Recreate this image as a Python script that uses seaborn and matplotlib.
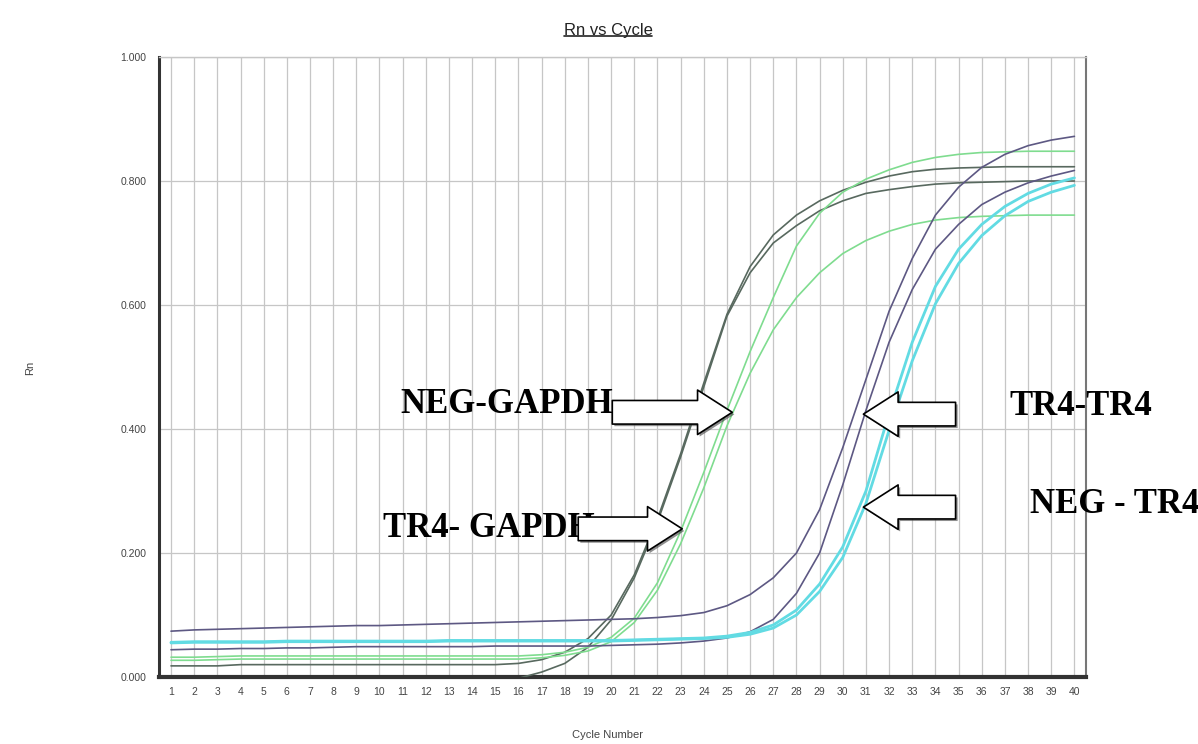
import matplotlib
matplotlib.use("Agg")
import matplotlib.pyplot as plt
import matplotlib.patheffects as pe
from matplotlib.lines import Line2D
import seaborn as sns
import pandas as pd

# Rn values, one list per well (cycles 1..40)
cycles = list(range(1, 41))

tr4_gapdh_a = [-0.012, -0.012, -0.012, -0.012, -0.012, -0.012, -0.012, -0.012, -0.012, -0.012,
               -0.012, -0.012, -0.012, -0.012, -0.008, -0.002, 0.008, 0.022, 0.048, 0.092,
               0.160, 0.250, 0.355, 0.468, 0.582, 0.652, 0.700, 0.728, 0.752, 0.768,
               0.780, 0.786, 0.791, 0.795, 0.797, 0.798, 0.799, 0.800, 0.800, 0.800]
tr4_gapdh_b = [0.018, 0.018, 0.018, 0.020, 0.020, 0.020, 0.020, 0.020, 0.020, 0.020,
               0.020, 0.020, 0.020, 0.020, 0.020, 0.022, 0.028, 0.040, 0.062, 0.100,
               0.165, 0.255, 0.360, 0.474, 0.585, 0.662, 0.713, 0.745, 0.768, 0.785,
               0.798, 0.808, 0.815, 0.819, 0.821, 0.822, 0.823, 0.823, 0.823, 0.823]
neg_gapdh_a = [0.032, 0.032, 0.033, 0.034, 0.034, 0.034, 0.034, 0.034, 0.034, 0.034,
               0.034, 0.034, 0.034, 0.034, 0.034, 0.034, 0.036, 0.040, 0.048, 0.064,
               0.095, 0.152, 0.235, 0.330, 0.430, 0.525, 0.612, 0.695, 0.748, 0.782,
               0.803, 0.818, 0.830, 0.838, 0.843, 0.846, 0.847, 0.848, 0.848, 0.848]
neg_gapdh_b = [0.027, 0.027, 0.028, 0.029, 0.029, 0.029, 0.029, 0.029, 0.029, 0.029,
               0.029, 0.029, 0.029, 0.029, 0.029, 0.029, 0.031, 0.035, 0.042, 0.057,
               0.088, 0.140, 0.215, 0.305, 0.405, 0.490, 0.560, 0.612, 0.652, 0.683,
               0.704, 0.719, 0.730, 0.737, 0.741, 0.743, 0.744, 0.745, 0.745, 0.745]
tr4_tr4_a = [0.074, 0.076, 0.077, 0.078, 0.079, 0.080, 0.081, 0.082, 0.083, 0.083,
             0.084, 0.085, 0.086, 0.087, 0.088, 0.089, 0.090, 0.091, 0.092, 0.093,
             0.094, 0.096, 0.099, 0.104, 0.115, 0.133, 0.160, 0.200, 0.270, 0.370,
             0.480, 0.590, 0.675, 0.745, 0.790, 0.822, 0.843, 0.857, 0.866, 0.872]
tr4_tr4_b = [0.044, 0.045, 0.045, 0.046, 0.046, 0.047, 0.047, 0.048, 0.049, 0.049,
             0.049, 0.049, 0.049, 0.049, 0.050, 0.050, 0.050, 0.050, 0.050, 0.051,
             0.052, 0.053, 0.055, 0.058, 0.063, 0.073, 0.093, 0.135, 0.200, 0.310,
             0.430, 0.540, 0.625, 0.690, 0.730, 0.762, 0.782, 0.797, 0.808, 0.817]
neg_tr4_a = [0.056, 0.057, 0.057, 0.057, 0.057, 0.058, 0.058, 0.058, 0.058, 0.058,
             0.058, 0.058, 0.059, 0.059, 0.059, 0.059, 0.059, 0.059, 0.059, 0.059,
             0.060, 0.061, 0.062, 0.063, 0.066, 0.072, 0.084, 0.108, 0.150, 0.210,
             0.300, 0.425, 0.540, 0.630, 0.690, 0.730, 0.759, 0.780, 0.795, 0.805]
neg_tr4_b = [0.055, 0.056, 0.056, 0.056, 0.056, 0.057, 0.057, 0.057, 0.057, 0.057,
             0.057, 0.057, 0.058, 0.058, 0.058, 0.058, 0.058, 0.058, 0.058, 0.058,
             0.059, 0.060, 0.061, 0.062, 0.064, 0.069, 0.079, 0.100, 0.138, 0.193,
             0.280, 0.398, 0.510, 0.602, 0.667, 0.712, 0.744, 0.767, 0.782, 0.793]

wells = {
    "TR4-GAPDH a": tr4_gapdh_a, "TR4-GAPDH b": tr4_gapdh_b,
    "NEG-GAPDH a": neg_gapdh_a, "NEG-GAPDH b": neg_gapdh_b,
    "TR4-TR4 a": tr4_tr4_a, "TR4-TR4 b": tr4_tr4_b,
    "NEG-TR4 a": neg_tr4_a, "NEG-TR4 b": neg_tr4_b,
}
colors = {
    "TR4-GAPDH a": "#58695f", "TR4-GAPDH b": "#58695f",
    "NEG-GAPDH a": "#7fdc8f", "NEG-GAPDH b": "#7fdc8f",
    "TR4-TR4 a": "#5d5883", "TR4-TR4 b": "#5d5883",
    "NEG-TR4 a": "#62dbe3", "NEG-TR4 b": "#62dbe3",
}
widths = {k: (2.0 if k.startswith("NEG-TR4") else 1.2) for k in wells}

df = pd.concat([pd.DataFrame({"Cycle": cycles, "Rn": v, "well": k}) for k, v in wells.items()])

sns.set_style("white")
plt.rcParams["font.family"] = ["Liberation Sans", "DejaVu Sans"]

fig = plt.figure(figsize=(11.98, 7.44), dpi=100)
ax = fig.add_axes([0.1327, 0.09, 0.7738, 0.8334])

for k in wells:
    sns.lineplot(data=df[df["well"] == k], x="Cycle", y="Rn", color=colors[k],
                 linewidth=widths[k], ax=ax, legend=False, zorder=3)

ax.set_xlim(0.48, 40.5)
ax.set_ylim(0, 1.0)
ax.set_xticks(cycles)
ax.set_xticklabels([str(c) for c in cycles])
yt = [0.0, 0.2, 0.4, 0.6, 0.8, 1.0]
ax.set_yticks(yt)
ax.set_yticklabels([f"{v:.3f}" for v in yt])
ax.tick_params(axis="both", length=0, labelsize=7.5, colors="#444444")
ax.tick_params(axis="x", pad=7)
ax.tick_params(axis="y", pad=9)
ax.grid(True, color="#c6c6c6", linewidth=0.9, zorder=0)
ax.set_axisbelow(True)
ax.set_xlabel("")
ax.set_ylabel("")

ax.spines["left"].set_color("#333333")
ax.spines["left"].set_linewidth(2.2)
ax.spines["bottom"].set_color("#333333")
ax.spines["bottom"].set_linewidth(3)
ax.spines["right"].set_color("#777777")
ax.spines["right"].set_linewidth(1.5)
ax.spines["top"].set_color("#c6c6c6")
ax.spines["top"].set_linewidth(1)

# labels and arrows
serif = dict(family=["Liberation Serif", "DejaVu Serif"], fontsize=25, fontweight="bold",
             color="black", zorder=5)
ax.text(20.1, 0.44, "NEG-GAPDH", ha="right", va="center", **serif)
ax.text(19.3, 0.239, "TR4- GAPDH", ha="right", va="center", **serif)
ax.text(37.2, 0.437, "TR4-TR4", ha="left", va="center", clip_on=False, **serif)
ax.text(38.1, 0.279, "NEG - TR4", ha="left", va="center", clip_on=False, **serif)

arrow_kw = dict(arrowstyle="simple,head_length=1.25,head_width=1.6,tail_width=0.85",
                fc="white", ec="black", lw=1.2, mutation_scale=20, shrinkA=0, shrinkB=0,
                path_effects=[pe.SimplePatchShadow(offset=(1.5, -1.5), shadow_rgbFace="#444444", alpha=0.6),
                              pe.Normal()])
for tail, tip in [((20.05, 0.427), (25.23, 0.427)), ((18.58, 0.239), (23.07, 0.239)),
                  ((34.87, 0.424), (30.89, 0.424)), ((34.87, 0.274), (30.89, 0.274))]:
    ann = ax.annotate("", xy=tip, xytext=tail, arrowprops=arrow_kw)
    ann.set_zorder(6)

t = fig.text(608 / 1198, 1 - 30 / 744, "Rn vs Cycle", ha="center", va="center",
             fontsize=12, color="#222222")
fig.text(30 / 1198, 1 - 368 / 744, "Rn", rotation=90, ha="center", va="center",
         fontsize=8, color="#444444")
fig.text(607 / 1198, 1 - 735 / 744, "Cycle Number", ha="center", va="center",
         fontsize=8, color="#444444")

# underline for the title
fig.canvas.draw()
bb = t.get_window_extent(fig.canvas.get_renderer())
inv = fig.transFigure.inverted()
(x0, y0), (x1, _) = inv.transform([(bb.x0, bb.y0 + 1), (bb.x1, bb.y0 + 1)])
fig.add_artist(Line2D([x0, x1], [y0, y0], transform=fig.transFigure, color="#222222", lw=1.2))

fig.savefig("out.png", dpi=100)
